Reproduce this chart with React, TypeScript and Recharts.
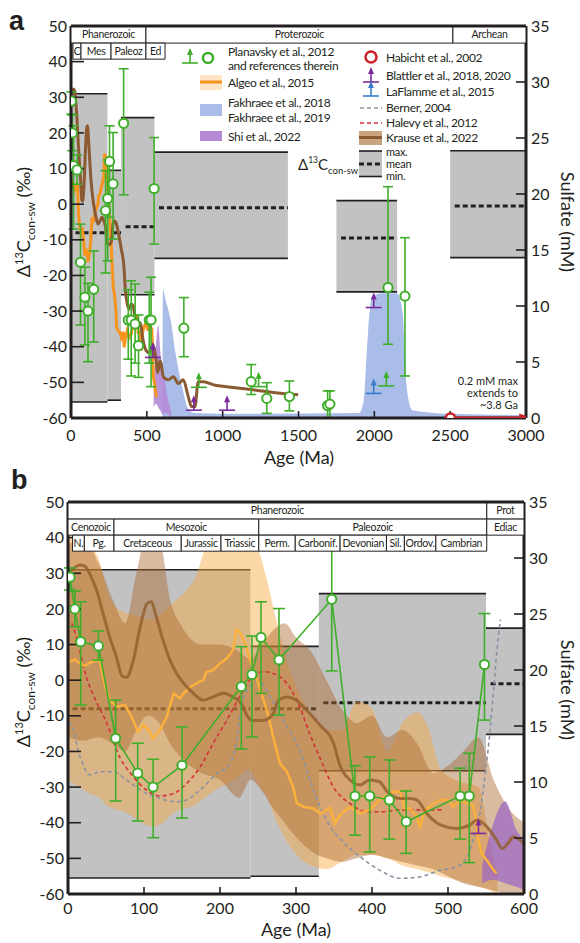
import React from 'react'
import {
  Area,
  ComposedChart,
  ErrorBar,
  Line,
  ReferenceArea,
  ReferenceLine,
  Scatter,
  XAxis,
  YAxis,
} from 'recharts'

const FONT = 'Lato, "Open Sans", sans-serif'
const INK = '#231f20'
const GREEN = '#3fae2a'
const ORANGE = '#f7941d'
const ORANGE_B = '#fbb03b'
const BROWN = '#8b5a32'
const BLUE_BAND = '#a9bde8'
const PURPLE = '#b48ad8'
const PURPLE_DARK = '#7b2a9c'
const BLUE_ARROW = '#3a7bc8'
const RED = '#cc2229'
const HALEVY = '#d3323a'
const GRAY_BOX = '#c2c2c2'
const BERNER = '#8a93a3'

// axis ticks
const A_TICKS = [0, 500, 1000, 1500, 2000, 2500, 3000]
const B_TICKS = [0, 100, 200, 300, 400, 500, 600]
const D13_TICKS = [-60, -50, -40, -30, -20, -10, 0, 10, 20, 30, 40, 50]
const SULF_TICKS = [0, 5, 10, 15, 20, 25, 30, 35]

// Δ13C con-sw boxes (Ma start / end, max, mean, min)
const BOX_START = [0, 240, 330, 550, 1750, 2500]
const BOX_END = [240, 330, 550, 1430, 2150, 3000]
const BOX_MAX = [31, 9.5, 24.3, 14.6, 1, 15]
const BOX_MEAN = [-8, -8, -6.3, -1, -9.5, -0.5]
const BOX_MIN = [-55.5, -55, -25.4, -15.2, -24.6, -15]

// Planavsky et al. 2012 (age, value, low, high)
const PLAN_AGE = [2.6, 9, 16.7, 40, 62.7, 91.7, 112, 150, 228, 242, 254, 277.6, 347, 377.6, 397, 422.8, 445, 516, 528, 548, 744, 1188, 1291, 1440, 1692, 1707, 2090, 2202]
const PLAN_VAL = [28.9, 20, 10.8, 9.6, -16.3, -26.1, -30, -23.9, -1.8, 1.6, 12, 5.7, 22.7, -32.5, -32.5, -33.6, -39.7, -32.5, -32.5, 4.4, -34.8, -49.8, -54.5, -54, -56.5, -56.1, -23.4, -25.8]
const PLAN_LOW = [25.3, 15, -7, 5.6, -33.9, -39.5, -44.2, -38.7, -19.3, -15.9, -3.7, -9.8, 2.6, -43.5, -48.2, -44.6, -48.6, -44.6, -51.2, -11.2, -42.8, -53.4, -58.7, -58, -60, -60, -39.3, -48.2]
const PLAN_HIGH = [31.5, 25, 22, 13.8, -5.6, -17.7, -22.2, -13.1, 9.4, 12.4, 22, 20.1, 38, -24, -21.5, -22.4, -31.1, -24.7, -20.5, 18.7, -26.2, -45, -50.1, -49.6, -52.4, -52.4, 4.9, -9.4]

// lower limits (arrows)
const PLAN_LIMIT = [[843, -51.4], [1237, -51.2], [2079, -51]]
const BLATTLER = [[540, -43], [810, -57.8], [1029, -57.8], [1996, -29]]
const LAFLAMME = [[1996, -53.1]]
const HABICHT = [[2502, -60]]
const HABICHT_EXT = [[2502, -60], [2975, -60]]

// Algeo et al. 2015
const ALGEO = [[2, 5.2], [9, 5.8], [16, 4.7], [22, 4], [29, 4.9], [38, 5.6], [42, 5.2], [49, -1.8], [55, -5.6], [64, -7.4], [75, -7], [84, -10.4], [92, -14.5], [99, -12.5], [106, -14], [112, -16.3], [121, -14], [130, -10.3], [139, -3.7], [147, -5.1], [154, -3.3], [160, -2], [169, -0.9], [178, 0], [182, 2.3], [191, 2.8], [200, 4.7], [209, 6.1], [217, 8.5], [222, 14.2], [226, 13.5], [233, 10.3], [240, 5.5], [246, 1.9], [253, -2.8], [259, -6.6], [266, -12.1], [270, -16], [279, -23.4], [288, -25.7], [296, -29.9], [301, -34.6], [310, -35.5], [323, -36], [332, -37.4], [345, -35.8], [351, -40.2], [358, -37.8], [371, -35.5], [384, -37.4], [397, -36.4], [410, -33.6], [419, -32.5], [428, -31.3], [437, -31.3], [443, -36], [450, -36], [459, -38.4], [463, -41.1], [470, -36.4], [481, -34.6], [490, -33.6], [500, -33.6], [507, -35.5], [516, -33.6], [525, -34.6], [533, -35], [536, -38.4], [540, -44.8], [544, -48.6], [551, -50.5], [560, -53.3], [564, -54.2]]
const ALGEO_BAND = [[0, -28, 44], [15, -30, 42], [30, -32, 38], [42, -33, 33], [50, -35, 26], [60, -36, 21], [75, -37, 19], [90, -39, 18], [110, -41, 17], [125, -40, 19], [140, -37, 22], [155, -36, 25], [168, -35, 29], [180, -33, 37], [192, -31, 45], [210, -29, 47], [225, -27, 46], [238, -25, 43], [250, -29, 37], [262, -33, 28], [275, -40, 16], [290, -46, 4], [305, -50, -4], [320, -52, -10], [340, -53, -14], [360, -51, -14], [380, -49, -6], [400, -49, -8], [420, -50, -20], [440, -52, -12], [460, -53, -9], [475, -54, -14], [490, -55, -25], [510, -56, -28], [540, -58, -30], [555, -59, -45], [565, -60, -55]]

// Krause et al. 2022
const KRAUSE = [[0, 30], [5, 31], [16, 32.3], [22, 32], [31, 28.8], [38, 25], [46, 18.8], [55, 12], [64, 6.3], [71, 1.2], [77, 0.8], [86, 5.6], [95, 15], [104, 21.5], [110, 22], [115, 18.6], [125, 11.3], [134, 5.7], [143, 1.9], [152, -0.8], [165, -3.7], [178, -5.6], [191, -4.7], [204, -3.7], [217, -4.7], [228, -6.6], [237, -10.4], [244, -11.3], [257, -11.3], [270, -9.4], [277, -5.6], [288, -4.7], [297, -5.2], [310, -7.5], [323, -10.5], [331, -12.5], [349, -17.5], [358, -24], [371, -28], [384, -29.4], [397, -28], [410, -28.5], [419, -31], [437, -33.2], [450, -33.2], [459, -33.6], [472, -37.4], [490, -40.6], [511, -41.6], [529, -40.6], [538, -39.2], [551, -41.1], [564, -44.9], [571, -47.2], [579, -45.8], [586, -43.9], [595, -44.9], [608, -48.4], [641, -49.3], [675, -48.4], [707, -50.3], [740, -49.3], [773, -54], [795, -56.8], [817, -56.8], [839, -49.8], [872, -49.8], [950, -50.8], [1026, -51.2], [1202, -52.1], [1350, -52.9], [1498, -53.5]]
const KRAUSE_BAND = [[0, -16, 38], [20, -17, 40], [40, -16, 33], [60, -18, 22], [75, -20, 16], [90, -14, 30], [105, -10, 42], [120, -12, 40], [135, -18, 22], [150, -22, 15], [175, -26, 10], [200, -28, 10], [225, -33, 8], [240, -28, 6], [255, -31, 10], [270, -36, 14], [285, -40, 16], [300, -44, 12], [320, -48, 8], [340, -50, 0], [360, -51, -8], [380, -50, -12], [400, -49, -10], [420, -50, -16], [440, -51, -14], [460, -52, -18], [480, -53, -26], [500, -55, -24], [520, -57, -20], [540, -58, -16], [560, -59, -28], [580, -60, -36], [600, -60, -40]]

// Berner 2004 and Halevy et al. 2012
const BERNER_PTS = [[0, -12], [3, -12.1], [16, -21.5], [29, -26.6], [42, -25.7], [60, -25.7], [77, -28], [99, -31.3], [121, -33.2], [143, -34.1], [156, -33.6], [174, -30.8], [196, -26.2], [213, -23.4], [222, -16.8], [228, -7.4], [235, -2.8], [250, -0.4], [266, -4.6], [283, -11.2], [305, -19.6], [323, -30.8], [345, -41.1], [362, -45.4], [384, -49.5], [410, -53.3], [437, -55.6], [463, -55.2], [490, -53.3], [511, -52.4], [525, -49.6], [533, -44.8], [542, -37.4], [549, -26.2], [555, -15], [560, -2.8], [564, 7.5], [569, 17]]
const HALEVY_PTS = [[5, 16], [11, 12], [17, 7], [24, 1], [33, -4], [51, -12.1], [68, -21.5], [86, -27.1], [103, -30.8], [121, -32.5], [139, -31.8], [156, -29], [174, -24.3], [191, -17.7], [209, -11.2], [226, -4.6], [243, 1], [257, 2.4], [270, 1.9], [288, -0.9], [305, -7.5], [318, -15], [332, -22], [349, -29.9], [371, -34.6], [393, -36.9], [415, -36.9], [437, -36.4], [459, -36.4], [494, -36.4]]

// Fakhraee et al. 2018, 2019 (upper edge, floor at -60) and Shi et al. 2022
const FAKHRAEE = [[603, -60], [606, -24], [625, -27], [657, -32.5], [689, -41.8], [733, -51.2], [777, -57.8], [820, -58.6], [1000, -58.8], [1900, -58.6], [1930, -55], [1960, -35], [1985, -26], [2050, -25], [2150, -25], [2185, -30], [2215, -52], [2250, -57.8], [2500, -58.8], [3000, -59.2]]
const SHI = [[545, -57, -52], [560, -56, -40], [575, -57, -34], [590, -58, -42], [605, -59, -46], [620, -58.5, -50], [640, -59, -55], [660, -59.5, -58]]

// geologic time scale headers [label, from, to]
const A_ROW1: [string, number, number][] = [['Phanerozoic', 0, 494], ['Proterozoic', 494, 2518], ['Archean', 2518, 3000]]
const A_ROW2: [string, number, number][] = [['C', 13, 66], ['Mes', 66, 264], ['Paleoz', 264, 494], ['Ed', 494, 620]]
const B_ROW1: [string, number, number][] = [['Phanerozoic', 0, 551], ['Prot', 551, 600]]
const B_ROW2: [string, number, number][] = [['Cenozoic', 0, 60.5], ['Mesozoic', 60.5, 251], ['Paleozoic', 251, 551], ['Ediac', 551, 600]]
const B_ROW3: [string, number, number][] = [['N.', 6, 21.5], ['Pg.', 21.5, 60.5], ['Cretaceous', 60.5, 149], ['Jurassic', 149, 201.3], ['Triassic', 201.3, 251], ['Perm.', 251, 299], ['Carbonif.', 299, 358], ['Devonian', 358, 419], ['Sil.', 419, 442.6], ['Ordov.', 442.6, 484], ['Cambrian', 484, 551]]
const ROW_EDGES = [50, 45.2, 40.7, 36.2]

const pts = (rows: number[][], max = Infinity) =>
  rows.filter((r) => r[0] <= max).map(([age, v]) => ({ age, v }))
const band = (rows: number[][]) => rows.map(([age, lo, hi]) => ({ age, range: [lo, hi] }))
const fak = FAKHRAEE.map(([age, hi]) => ({ age, range: [-60, hi] }))

const planavsky = (max: number) =>
  PLAN_AGE.map((age, i) => ({
    age,
    v: PLAN_VAL[i],
    err: [PLAN_VAL[i] - PLAN_LOW[i], PLAN_HIGH[i] - PLAN_VAL[i]],
  })).filter((p) => p.age <= max)

const Ring = (p: any) => (
  <circle cx={p.cx} cy={p.cy} r={4.6} fill="#fff" stroke={GREEN} strokeWidth={2} />
)
const RedRing = (p: any) => <circle cx={p.cx} cy={p.cy} r={4.6} fill="#fff" stroke={RED} strokeWidth={2.5} />

function upArrow(color: string) {
  return function UpArrow(p: any) {
    const { cx, cy } = p
    return (
      <g>
        <line x1={cx - 8} x2={cx + 8} y1={cy} y2={cy} stroke={color} strokeWidth={1.6} />
        <line x1={cx} x2={cx} y1={cy} y2={cy - 10} stroke={color} strokeWidth={1.6} />
        <path d={`M${cx - 3},${cy - 8} L${cx + 3},${cy - 8} L${cx},${cy - 15} Z`} fill={color} />
      </g>
    )
  }
}

const ArrowHead = (p: any) => (
  <path d={`M${p.cx - 3},${p.cy - 4.5} L${p.cx + 10},${p.cy} L${p.cx - 3},${p.cy + 4.5} Z`} fill={RED} />
)

function boxLayers(maxAge: number, k: string) {
  const out: React.ReactNode[] = []
  BOX_START.forEach((s, i) => {
    if (s >= maxAge) return
    const e = Math.min(BOX_END[i], maxAge)
    out.push(
      <ReferenceArea key={`${k}box${i}`} yAxisId="l" x1={s} x2={e} y1={BOX_MIN[i]} y2={BOX_MAX[i]} fill={GRAY_BOX} fillOpacity={1} stroke="none" zIndex={40} />,
    )
  })
  BOX_START.forEach((s, i) => {
    if (s >= maxAge) return
    const e = Math.min(BOX_END[i], maxAge)
    out.push(
      <ReferenceLine key={`${k}max${i}`} yAxisId="l" segment={[{ x: s, y: BOX_MAX[i] }, { x: e, y: BOX_MAX[i] }]} stroke={INK} strokeWidth={1.6} zIndex={50} />,
      <ReferenceLine key={`${k}min${i}`} yAxisId="l" segment={[{ x: s, y: BOX_MIN[i] }, { x: e, y: BOX_MIN[i] }]} stroke={INK} strokeWidth={1.6} zIndex={50} />,
      <ReferenceLine key={`${k}mean${i}`} yAxisId="l" segment={[{ x: s + 6 * (maxAge / 600), y: BOX_MEAN[i] }, { x: e, y: BOX_MEAN[i] }]} stroke={INK} strokeWidth={3} strokeDasharray="5 3" zIndex={50} />,
    )
  })
  return out
}

function headerRows(rows: [string, number, number][][], k: string) {
  const out: React.ReactNode[] = []
  rows.forEach((row, r) =>
    row.forEach(([name, from, to], i) =>
      out.push(
        <ReferenceArea
          key={`${k}h${r}-${i}`}
          yAxisId="l"
          x1={from}
          x2={to}
          y1={ROW_EDGES[r + 1]}
          y2={ROW_EDGES[r]}
          fill="#fff"
          fillOpacity={1}
          stroke={INK}
          strokeWidth={1}
          zIndex={1500}
          label={{ value: name, position: 'center', fontSize: 10.5, letterSpacing: -0.3, fill: INK, fontFamily: FONT }}
        />,
      ),
    ),
  )
  return out
}

const tickStyle = { fontSize: 16, fill: INK, fontFamily: FONT }
const axisLine = { stroke: INK, strokeWidth: 3 }
const tickLine = { stroke: INK, strokeWidth: 1.6 }

function PanelA() {
  return (
    <ComposedChart width={580} height={470} margin={{ top: 26, right: 0, bottom: 0, left: 0 }}>
      <XAxis type="number" dataKey="age" domain={[0, 3000]} ticks={A_TICKS} allowDataOverflow height={52}
        tickSize={-7} tickMargin={19} tick={tickStyle} axisLine={axisLine} tickLine={tickLine} />
      <YAxis yAxisId="l" type="number" domain={[-60, 50]} ticks={D13_TICKS} allowDataOverflow width={71}
        tickSize={-13} tickMargin={17} tick={tickStyle} axisLine={axisLine} tickLine={tickLine} />
      <YAxis yAxisId="r" orientation="right" type="number" domain={[0, 35]} ticks={SULF_TICKS} allowDataOverflow width={54}
        tickSize={-10} tickMargin={15} tick={tickStyle} axisLine={axisLine} tickLine={tickLine} />

      {boxLayers(3000, 'a')}

      <Area yAxisId="l" data={fak} dataKey="range" type="monotone" stroke="none" fill={BLUE_BAND} fillOpacity={1} isAnimationActive={false} />
      <Area yAxisId="l" data={band(SHI)} dataKey="range" type="monotone" stroke="none" fill={PURPLE} fillOpacity={0.9} isAnimationActive={false} />

      <Line yAxisId="l" data={pts(ALGEO)} dataKey="v" type="linear" stroke={ORANGE} strokeWidth={3} dot={false} isAnimationActive={false} />
      <Line yAxisId="l" data={pts(KRAUSE)} dataKey="v" type="monotone" stroke={BROWN} strokeWidth={3} dot={false} isAnimationActive={false} />

      <Line yAxisId="l" data={pts(HABICHT_EXT)} dataKey="v" type="linear" stroke={RED} strokeWidth={3} dot={false} isAnimationActive={false} zIndex={650} />
      <Scatter yAxisId="l" data={pts(HABICHT_EXT).slice(1)} dataKey="v" shape={ArrowHead} isAnimationActive={false} zIndex={650} />
      <Scatter yAxisId="l" data={pts(HABICHT)} dataKey="v" shape={RedRing} isAnimationActive={false} zIndex={660} />

      <Scatter yAxisId="l" data={pts(BLATTLER)} dataKey="v" shape={upArrow(PURPLE_DARK)} isAnimationActive={false} />
      <Scatter yAxisId="l" data={pts(LAFLAMME)} dataKey="v" shape={upArrow(BLUE_ARROW)} isAnimationActive={false} />
      <Scatter yAxisId="l" data={pts(PLAN_LIMIT)} dataKey="v" shape={upArrow(GREEN)} isAnimationActive={false} />
      <Scatter yAxisId="l" data={planavsky(3000)} dataKey="v" shape={Ring} isAnimationActive={false}>
        <ErrorBar dataKey="err" direction="y" width={5} stroke={GREEN} strokeWidth={1.6} />
      </Scatter>

      {headerRows([A_ROW1, A_ROW2], 'a')}
      <ReferenceLine yAxisId="l" y={50} stroke={INK} strokeWidth={3} zIndex={1600} />
    </ComposedChart>
  )
}

function PanelB() {
  return (
    <ComposedChart width={580} height={483} margin={{ top: 42, right: 0, bottom: 0, left: 0 }}>
      <XAxis type="number" dataKey="age" domain={[0, 600]} ticks={B_TICKS} allowDataOverflow height={49}
        tickSize={-7} tickMargin={16} tick={tickStyle} axisLine={axisLine} tickLine={tickLine} />
      <YAxis yAxisId="l" type="number" domain={[-60, 50]} ticks={D13_TICKS} allowDataOverflow width={68}
        tickSize={-13} tickMargin={17} tick={tickStyle} axisLine={axisLine} tickLine={tickLine} />
      <YAxis yAxisId="r" orientation="right" type="number" domain={[0, 35]} ticks={SULF_TICKS} allowDataOverflow width={56}
        tickSize={-10} tickMargin={15} tick={tickStyle} axisLine={axisLine} tickLine={tickLine} />

      {boxLayers(600, 'b')}

      <Area yAxisId="l" data={band(ALGEO_BAND)} dataKey="range" type="monotone" stroke="none" fill="#f9a940" fillOpacity={0.45} isAnimationActive={false} />
      <Area yAxisId="l" data={band(KRAUSE_BAND)} dataKey="range" type="monotone" stroke="none" fill="#a8682c" fillOpacity={0.45} isAnimationActive={false} />
      <Area yAxisId="l" data={band(SHI)} dataKey="range" type="monotone" stroke="none" fill="#9a64c8" fillOpacity={0.7} isAnimationActive={false} />

      <Line yAxisId="l" data={pts(BERNER_PTS)} dataKey="v" type="monotone" stroke={BERNER} strokeWidth={1.6} strokeDasharray="4 3" dot={false} isAnimationActive={false} />
      <Line yAxisId="l" data={pts(HALEVY_PTS)} dataKey="v" type="monotone" stroke={HALEVY} strokeWidth={1.6} strokeDasharray="4 3" dot={false} isAnimationActive={false} />
      <Line yAxisId="l" data={pts(ALGEO)} dataKey="v" type="linear" stroke={ORANGE_B} strokeWidth={2.5} dot={false} isAnimationActive={false} />
      <Line yAxisId="l" data={pts(KRAUSE, 620)} dataKey="v" type="monotone" stroke="#94602f" strokeOpacity={0.85} strokeWidth={3} dot={false} isAnimationActive={false} />

      <Scatter yAxisId="l" data={pts(BLATTLER, 600)} dataKey="v" shape={upArrow(PURPLE_DARK)} isAnimationActive={false} />
      <Line yAxisId="l" data={planavsky(600)} dataKey="v" type="linear" stroke={GREEN} strokeWidth={1.6} dot={false} isAnimationActive={false} />
      <Scatter yAxisId="l" data={planavsky(600)} dataKey="v" shape={Ring} isAnimationActive={false}>
        <ErrorBar dataKey="err" direction="y" width={6} stroke={GREEN} strokeWidth={1.6} />
      </Scatter>

      {headerRows([B_ROW1, B_ROW2, B_ROW3], 'b')}
      <ReferenceLine yAxisId="l" y={50} stroke={INK} strokeWidth={3} zIndex={1600} />
    </ComposedChart>
  )
}

function D13Title({ x, y }: { x: number; y: number }) {
  return (
    <text transform={`translate(${x},${y}) rotate(-90)`} textAnchor="middle" fontSize={18} fill={INK}>
      <tspan>Δ</tspan>
      <tspan fontSize={11} dy={-7}>13</tspan>
      <tspan dy={7}>C</tspan>
      <tspan fontSize={12} dy={5}>con-sw</tspan>
      <tspan dy={-5}> (‰)</tspan>
    </text>
  )
}

function SulfTitle({ x, y }: { x: number; y: number }) {
  return (
    <text transform={`translate(${x},${y}) rotate(90)`} textAnchor="middle" fontSize={18} fill={INK}>
      Sulfate (mM)
    </text>
  )
}

function LegendIconArrow({ x, y, color }: { x: number; y: number; color: string }) {
  return upArrow(color)({ cx: x, cy: y })
}

function LegendA() {
  const t = { fontSize: 12, letterSpacing: -0.35, fill: INK }
  const s = { fontSize: 11, letterSpacing: -0.3, fill: INK }
  return (
    <g>
      <LegendIconArrow x={190} y={63} color={GREEN} />
      <circle cx={208} cy={58} r={5} fill="#fff" stroke={GREEN} strokeWidth={2.5} />
      <text x={228} y={56} {...t}>Planavsky et al., 2012</text>
      <text x={228} y={69.5} {...t}>and references therein</text>
      <rect x={200} y={75} width={22} height={15} fill="#fde4c4" />
      <line x1={200} x2={222} y1={82} y2={82} stroke={ORANGE} strokeWidth={3} />
      <text x={228} y={86.5} {...t}>Algeo et al., 2015</text>
      <rect x={200} y={104} width={22} height={12} fill={BLUE_BAND} />
      <text x={228} y={107} {...t}>Fakhraee et al., 2018</text>
      <text x={228} y={121.5} {...t}>Fakhraee et al., 2019</text>
      <rect x={200} y={131} width={22} height={10} fill={PURPLE} />
      <text x={228} y={140.5} {...t}>Shi et al., 2022</text>

      <circle cx={371} cy={57} r={5.5} fill="#fff" stroke={RED} strokeWidth={2.5} />
      <text x={386} y={61.5} {...t}>Habicht et al., 2002</text>
      <LegendIconArrow x={371} y={82} color={PURPLE_DARK} />
      <text x={386} y={79.5} {...t}>Blattler et al., 2018, 2020</text>
      <LegendIconArrow x={371} y={96} color={BLUE_ARROW} />
      <text x={386} y={95.5} {...t}>LaFlamme et al., 2015</text>
      <line x1={360} x2={382} y1={108} y2={108} stroke={BERNER} strokeWidth={1.6} strokeDasharray="4 3" />
      <text x={386} y={112} {...t}>Berner, 2004</text>
      <line x1={360} x2={382} y1={123} y2={123} stroke={HALEVY} strokeWidth={1.6} strokeDasharray="4 3" />
      <text x={386} y={126.5} {...t}>Halevy et al., 2012</text>
      <rect x={359} y={131} width={23} height={14} fill="#c9a57f" />
      <line x1={359} x2={382} y1={137.5} y2={137.5} stroke={BROWN} strokeWidth={3} />
      <text x={386} y={141.5} {...t}>Krause et al., 2022</text>
      <rect x={359} y={151} width={23} height={26} fill={GRAY_BOX} />
      <line x1={359} x2={382} y1={151} y2={151} stroke={INK} strokeWidth={1.6} />
      <line x1={359} x2={382} y1={164} y2={164} stroke={INK} strokeWidth={3} strokeDasharray="5 3" />
      <line x1={359} x2={382} y1={176.5} y2={176.5} stroke={INK} strokeWidth={1.6} />
      <text x={386} y={155.5} {...s}>max.</text>
      <text x={386} y={167.5} {...s}>mean</text>
      <text x={386} y={179.5} {...s}>min.</text>
      <text x={298} y={170} fontSize={15} fill={INK}>
        <tspan>Δ</tspan>
        <tspan fontSize={8.5} dy={-7}>13</tspan>
        <tspan dy={7}>C</tspan>
        <tspan fontSize={9.5} dy={4}>con-sw</tspan>
      </text>

      <g fontSize={11} fill={INK} textAnchor="end">
        <text x={518} y={385}>0.2 mM max</text>
        <text x={518} y={397}>extends to</text>
        <text x={518} y={409}>~3.8 Ga</text>
      </g>
    </g>
  )
}

export default function App() {
  return (
    <div style={{ position: 'absolute', left: 0, top: 0, width: 580, height: 943, background: '#fff', fontFamily: FONT }}>
      <div style={{ position: 'absolute', left: 0, top: 0 }}>
        <PanelA />
      </div>
      <div style={{ position: 'absolute', left: 0, top: 460 }}>
        <PanelB />
      </div>
      <svg width={580} height={943} style={{ position: 'absolute', left: 0, top: 0, pointerEvents: 'none' }} fontFamily={FONT}>
        <text x={9} y={30} fontSize={27} fontWeight={700} fontFamily="'Liberation Sans', Arial, sans-serif" fill={INK}>a</text>
        <text x={11} y={489} fontSize={27} fontWeight={700} fontFamily="'Liberation Sans', Arial, sans-serif" fill={INK}>b</text>
        <D13Title x={30} y={222} />
        <SulfTitle x={561} y={222} />
        <D13Title x={30} y={692} />
        <SulfTitle x={561} y={690} />
        <text x={299} y={464} textAnchor="middle" fontSize={18} fill={INK}>Age (Ma)</text>
        <text x={296} y={936} textAnchor="middle" fontSize={18} fill={INK}>Age (Ma)</text>
        <LegendA />
      </svg>
    </div>
  )
}
